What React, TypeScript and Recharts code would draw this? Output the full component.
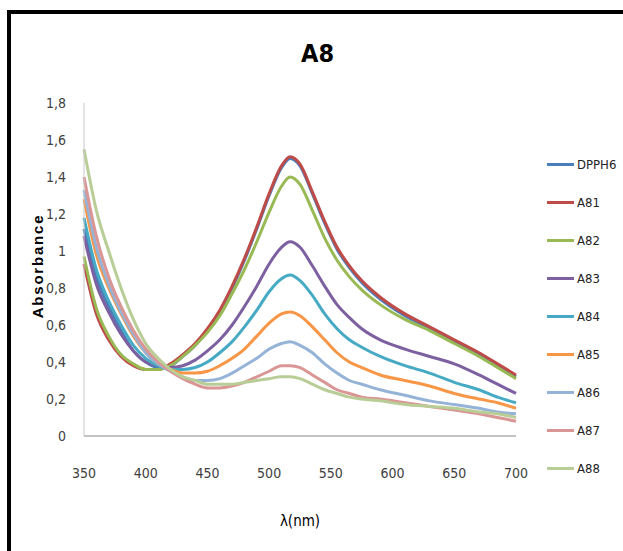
import { LineChart, Line, XAxis, YAxis } from 'recharts'

const wavelengths = [350, 360, 370, 380, 390, 400, 410, 420, 430, 440, 450, 460, 470, 480, 490, 500, 510, 517, 525, 535, 545, 555, 565, 575, 590, 610, 630, 650, 670, 685, 700]

const dpph6 = [1.12, 0.86, 0.7, 0.57, 0.46, 0.4, 0.37, 0.38, 0.43, 0.49, 0.57, 0.67, 0.8, 0.95, 1.12, 1.3, 1.45, 1.5, 1.46, 1.31, 1.15, 1.01, 0.91, 0.83, 0.74, 0.65, 0.58, 0.51, 0.44, 0.38, 0.32]
const a81 = [0.93, 0.66, 0.52, 0.43, 0.38, 0.36, 0.36, 0.39, 0.44, 0.5, 0.58, 0.68, 0.81, 0.96, 1.13, 1.31, 1.46, 1.51, 1.47, 1.32, 1.16, 1.02, 0.92, 0.84, 0.75, 0.66, 0.59, 0.52, 0.45, 0.39, 0.33]
const a82 = [0.97, 0.69, 0.54, 0.44, 0.39, 0.36, 0.36, 0.38, 0.43, 0.49, 0.56, 0.65, 0.77, 0.9, 1.05, 1.21, 1.35, 1.4, 1.36, 1.22, 1.07, 0.95, 0.86, 0.79, 0.71, 0.63, 0.57, 0.5, 0.43, 0.37, 0.31]
const a83 = [1.08, 0.82, 0.67, 0.55, 0.46, 0.4, 0.38, 0.37, 0.38, 0.41, 0.46, 0.52, 0.6, 0.7, 0.81, 0.93, 1.02, 1.05, 1.02, 0.92, 0.81, 0.71, 0.64, 0.58, 0.52, 0.47, 0.43, 0.39, 0.33, 0.28, 0.23]
const a84 = [1.18, 0.9, 0.73, 0.6, 0.49, 0.42, 0.38, 0.36, 0.36, 0.37, 0.4, 0.45, 0.51, 0.59, 0.68, 0.78, 0.85, 0.87, 0.84, 0.76, 0.66, 0.58, 0.52, 0.48, 0.43, 0.38, 0.34, 0.29, 0.25, 0.21, 0.18]
const a85 = [1.28, 0.98, 0.8, 0.66, 0.54, 0.45, 0.39, 0.36, 0.34, 0.34, 0.35, 0.38, 0.42, 0.47, 0.54, 0.61, 0.66, 0.67, 0.65, 0.59, 0.52, 0.45, 0.4, 0.37, 0.33, 0.3, 0.27, 0.23, 0.2, 0.18, 0.15]
const a86 = [1.33, 1.02, 0.82, 0.67, 0.55, 0.45, 0.39, 0.35, 0.32, 0.3, 0.3, 0.31, 0.34, 0.38, 0.42, 0.47, 0.5, 0.51, 0.49, 0.45, 0.39, 0.34, 0.3, 0.28, 0.25, 0.22, 0.19, 0.17, 0.15, 0.13, 0.12]
const a87 = [1.4, 1.08, 0.86, 0.7, 0.57, 0.47, 0.4, 0.35, 0.31, 0.28, 0.26, 0.26, 0.27, 0.29, 0.32, 0.35, 0.38, 0.38, 0.37, 0.33, 0.29, 0.25, 0.23, 0.21, 0.2, 0.18, 0.16, 0.14, 0.12, 0.1, 0.08]
const a88 = [1.55, 1.22, 1.0, 0.8, 0.63, 0.5, 0.42, 0.36, 0.32, 0.3, 0.28, 0.28, 0.28, 0.29, 0.3, 0.31, 0.32, 0.32, 0.31, 0.28, 0.25, 0.23, 0.21, 0.2, 0.19, 0.17, 0.16, 0.15, 0.13, 0.12, 0.1]

const seriesNames = ['DPPH6', 'A81', 'A82', 'A83', 'A84', 'A85', 'A86', 'A87', 'A88']
const seriesValues = [dpph6, a81, a82, a83, a84, a85, a86, a87, a88]
const colors = ['#4A7EBB', '#BE4B48', '#98B954', '#7D60A0', '#46AAC5', '#F79646', '#95B3D7', '#D99694', '#B9CD96']

const xTicks = [350, 400, 450, 500, 550, 600, 650, 700]
const yTicks = [0, 0.2, 0.4, 0.6, 0.8, 1, 1.2, 1.4, 1.6, 1.8]

const data = wavelengths.map((w, i) => {
  const row: any = { nm: w }
  seriesNames.forEach((name, s) => {
    row[name] = seriesValues[s][i]
  })
  return row
})

const narrowStyle = { fontFamily: '"DejaVu Sans", sans-serif', fontStretch: 'condensed' as const }

export default function App() {
  return (
    <div style={{ position: 'absolute', left: 0, top: 0, width: 623, height: 551, overflow: 'hidden', background: '#fff' }}>
      <div style={{ position: 'absolute', left: 7, top: 10, width: 680, height: 600, border: '4px solid #000', boxSizing: 'border-box' }} />
      <div style={{ position: 'absolute', left: 0, top: 39, width: 623, textAlign: 'center', paddingLeft: 12, boxSizing: 'border-box', ...narrowStyle, fontWeight: 'bold', fontSize: 25, color: '#000' }}>
        A8
      </div>
      {/* y axis title */}
      <div style={{ position: 'absolute', left: 38, top: 266, width: 0, height: 0 }}>
        <div style={{ position: 'absolute', left: -80, top: -9, width: 160, textAlign: 'center', transform: 'rotate(-90deg)', fontFamily: '"Liberation Sans", Arial, sans-serif', fontWeight: 'bold', fontSize: 15, letterSpacing: 1.8, lineHeight: '18px', color: '#000' }}>
          Absorbance
        </div>
      </div>
      {/* legend, built from the series arrays */}
      <div style={{ position: 'absolute', left: 547, top: 146 }}>
        {seriesNames.map((name, s) => (
          <div key={name} style={{ display: 'flex', alignItems: 'center', height: 37.9 }}>
            <div style={{ width: 27, height: 3, background: colors[s], marginRight: 3 }} />
            <span style={{ ...narrowStyle, fontSize: 13, color: '#222' }}>{name}</span>
          </div>
        ))}
      </div>
      <div style={{ position: 'absolute', left: 0, top: 0 }}>
        <LineChart width={623} height={551} data={data} margin={{ top: 103, right: 107, bottom: 85, left: 0 }}>
          <XAxis
            dataKey="nm"
            type="number"
            domain={[350, 700]}
            ticks={xTicks}
            height={30}
            tickLine={false}
            tickSize={0}
            tickMargin={32}
            axisLine={{ stroke: '#868686' }}
            tick={{ ...narrowStyle, fontSize: 14, fill: '#404040' }}
            label={{ value: 'λ(nm)', position: 'insideBottom', offset: -60, ...narrowStyle, fontSize: 15, fill: '#000' }}
          />
          <YAxis
            type="number"
            domain={[0, 1.8]}
            ticks={yTicks}
            width={84}
            tickLine={false}
            tickSize={0}
            tickMargin={18}
            axisLine={{ stroke: '#c8c8c8' }}
            tickFormatter={(v: number) => String(Number(v.toFixed(1))).replace('.', ',')}
            tick={{ ...narrowStyle, fontSize: 14, fill: '#404040' }}
          />
          {seriesNames.map((name, s) => (
            <Line
              key={name}
              dataKey={name}
              type="monotone"
              stroke={colors[s]}
              strokeWidth={3}
              dot={false}
              isAnimationActive={false}
            />
          ))}
        </LineChart>
      </div>
    </div>
  )
}
